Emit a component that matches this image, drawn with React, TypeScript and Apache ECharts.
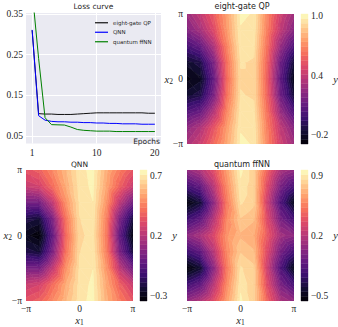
import React, { useEffect, useRef } from 'react';
import * as echarts from 'echarts';

const PI = Math.PI;

// ---------- Loss curve data ----------
const epochs = [1, 2, 3, 4, 5, 6, 7, 8, 9, 10, 11, 12, 13, 14, 15, 16, 17, 18, 19, 20];
const lossEightGate = [0.31, 0.105, 0.104, 0.104, 0.103, 0.103, 0.103, 0.104, 0.105, 0.106, 0.107, 0.107, 0.107, 0.107, 0.107, 0.107, 0.107, 0.107, 0.106, 0.106];
const lossQNN = [0.311, 0.1, 0.089, 0.086, 0.085, 0.085, 0.084, 0.084, 0.083, 0.083, 0.082, 0.082, 0.081, 0.081, 0.08, 0.08, 0.08, 0.079, 0.079, 0.079];
const lossFfnn = [0.407, 0.241, 0.095, 0.078, 0.0775, 0.077, 0.072, 0.066, 0.064, 0.063, 0.062, 0.062, 0.062, 0.061, 0.061, 0.061, 0.061, 0.061, 0.061, 0.061];
const seriesNames = ['eight-gate QP', 'QNN', 'quantum ffNN'];
const lossXTickPos = [1, 11, 20];
const lossXTickLabels = ['1', '10', '20'];
const lossYTicks = [0.05, 0.15, 0.25, 0.35];

// ---------- Contour grids (rows: x2 = pi .. -pi, cols: x1 = -pi .. pi) ----------
const gridX1 = [-PI, -0.75 * PI, -0.5 * PI, -0.25 * PI, 0, 0.25 * PI, 0.5 * PI, 0.75 * PI, PI];
const gridX2 = [PI, 0.75 * PI, 0.5 * PI, 0.25 * PI, 0, -0.25 * PI, -0.5 * PI, -0.75 * PI, -PI];

const eightGateGrid = [
  [0.28, 0.40, 0.56, 0.76, 0.98, 0.97, 0.68, 0.44, 0.29],
  [0.20, 0.31, 0.49, 0.74, 0.97, 0.96, 0.66, 0.39, 0.21],
  [0.01, 0.10, 0.33, 0.68, 0.95, 0.94, 0.62, 0.26, 0.03],
  [-0.18, -0.12, 0.17, 0.62, 0.93, 0.92, 0.58, 0.13, -0.16],
  [-0.26, -0.21, 0.10, 0.60, 0.92, 0.92, 0.56, 0.08, -0.24],
  [-0.17, -0.12, 0.17, 0.63, 0.93, 0.92, 0.58, 0.13, -0.16],
  [0.04, 0.11, 0.35, 0.69, 0.95, 0.94, 0.62, 0.26, 0.03],
  [0.24, 0.34, 0.53, 0.75, 0.97, 0.96, 0.66, 0.39, 0.21],
  [0.33, 0.43, 0.60, 0.78, 0.98, 0.97, 0.68, 0.44, 0.29],
];

const qnnGrid = [
  [0.34, 0.38, 0.48, 0.59, 0.695, 0.725, 0.57, 0.45, 0.35],
  [0.25, 0.28, 0.41, 0.56, 0.69, 0.72, 0.55, 0.38, 0.25],
  [0.03, 0.03, 0.23, 0.50, 0.68, 0.71, 0.51, 0.22, 0.02],
  [-0.20, -0.23, 0.05, 0.43, 0.67, 0.70, 0.46, 0.05, -0.22],
  [-0.29, -0.33, -0.02, 0.40, 0.66, 0.69, 0.44, -0.02, -0.32],
  [-0.20, -0.23, 0.05, 0.43, 0.67, 0.70, 0.46, 0.05, -0.22],
  [0.03, 0.03, 0.23, 0.50, 0.68, 0.71, 0.51, 0.22, 0.02],
  [0.25, 0.28, 0.41, 0.56, 0.69, 0.72, 0.55, 0.38, 0.25],
  [0.34, 0.38, 0.48, 0.59, 0.695, 0.725, 0.57, 0.45, 0.35],
];

const ffnnGrid = [
  [0.07, 0.18, 0.37, 0.66, 0.93, 0.82, 0.46, 0.16, 0.07],
  [-0.22, -0.11, 0.21, 0.60, 0.90, 0.82, 0.36, -0.02, -0.21],
  [-0.53, -0.40, 0.05, 0.54, 0.87, 0.82, 0.28, -0.18, -0.48],
  [-0.24, -0.12, 0.20, 0.59, 0.80, 0.76, 0.35, -0.03, -0.22],
  [0.05, 0.16, 0.34, 0.63, 0.74, 0.70, 0.42, 0.13, 0.05],
  [-0.24, -0.12, 0.20, 0.59, 0.80, 0.76, 0.35, -0.03, -0.22],
  [-0.55, -0.42, 0.04, 0.54, 0.87, 0.82, 0.28, -0.18, -0.49],
  [-0.22, -0.11, 0.21, 0.60, 0.90, 0.82, 0.36, -0.02, -0.21],
  [0.08, 0.18, 0.37, 0.66, 0.93, 0.82, 0.46, 0.16, 0.07],
];

const eightGateRange = [-0.29, 1.02];
const qnnRange = [-0.34, 0.75];
const ffnnRange = [-0.557, 0.97];
const eightGateTicks = [-0.2, 0.4, 1.0];
const qnnTicks = [-0.3, 0.2, 0.7];
const ffnnTicks = [-0.5, 0.2, 0.9];
const piTicks = [-PI, 0, PI];
const levelCount = 28;

// ---------- styling ----------
const SERIF = 'Liberation Serif';
const SANS = 'DejaVu Sans';
const TXT = '#262626';

const MAGMA: [number, number, number, number][] = [
  [0.0, 0, 0, 4],
  [0.1, 20, 14, 54],
  [0.2, 59, 15, 112],
  [0.3, 100, 26, 128],
  [0.4, 140, 41, 129],
  [0.5, 183, 55, 121],
  [0.6, 222, 73, 104],
  [0.7, 247, 112, 92],
  [0.8, 254, 159, 109],
  [0.9, 254, 207, 146],
  [1.0, 252, 253, 191],
];

function magma(t: number): string {
  const tt = Math.max(0, Math.min(1, t));
  for (let i = 0; i < MAGMA.length - 1; i++) {
    const a = MAGMA[i];
    const b = MAGMA[i + 1];
    if (tt <= b[0]) {
      const f = (tt - a[0]) / (b[0] - a[0]);
      const r = Math.round(a[1] + f * (b[1] - a[1]));
      const g = Math.round(a[2] + f * (b[2] - a[2]));
      const bl = Math.round(a[3] + f * (b[3] - a[3]));
      return `rgb(${r},${g},${bl})`;
    }
  }
  return 'rgb(252,253,191)';
}

function makeLevels(range: number[]): number[] {
  const out: number[] = [];
  for (let i = 0; i <= levelCount; i++) out.push(range[0] + ((range[1] - range[0]) * i) / levelCount);
  return out;
}

function bandColors(): string[] {
  const out: string[] = [];
  for (let k = 0; k < levelCount; k++) out.push(magma((k + 0.5) / levelCount));
  return out;
}

type P = [number, number, number];

function clipPoly(poly: P[], level: number, keepAbove: boolean): P[] {
  const out: P[] = [];
  for (let i = 0; i < poly.length; i++) {
    const a = poly[i];
    const b = poly[(i + 1) % poly.length];
    const ina = keepAbove ? a[2] >= level : a[2] <= level;
    const inb = keepAbove ? b[2] >= level : b[2] <= level;
    if (ina) out.push(a);
    if (ina !== inb) {
      const t = (level - a[2]) / (b[2] - a[2]);
      out.push([a[0] + t * (b[0] - a[0]), a[1] + t * (b[1] - a[1]), level]);
    }
  }
  return out;
}

function contourSeries(idx: number, grid: number[][], range: number[]) {
  const levels = makeLevels(range);
  const colors = bandColors();
  const cells: number[][] = [];
  for (let r = 0; r < gridX2.length - 1; r++) {
    for (let c = 0; c < gridX1.length - 1; c++) {
      cells.push([
        gridX1[c], gridX2[r], gridX1[c + 1], gridX2[r + 1],
        grid[r][c], grid[r][c + 1], grid[r + 1][c], grid[r + 1][c + 1],
      ]);
    }
  }
  return {
    type: 'custom',
    xAxisIndex: idx,
    yAxisIndex: idx,
    data: cells,
    encode: { x: [0, 2], y: [1, 3] },
    silent: true,
    clip: true,
    renderItem: (_params: any, api: any) => {
      const x0 = api.value(0), y0 = api.value(1), x1 = api.value(2), y1 = api.value(3);
      const v00 = api.value(4), v10 = api.value(5), v01 = api.value(6), v11 = api.value(7);
      const tris: P[][] = [
        [[x0, y0, v00], [x1, y0, v10], [x1, y1, v11]],
        [[x0, y0, v00], [x1, y1, v11], [x0, y1, v01]],
      ];
      const children: any[] = [];
      for (const tri of tris) {
        const vs = tri.map((p) => p[2]);
        const tmin = Math.min(...vs);
        const tmax = Math.max(...vs);
        for (let k = 0; k < levelCount; k++) {
          const lo = k === 0 ? -Infinity : levels[k];
          const hi = k === levelCount - 1 ? Infinity : levels[k + 1];
          if (tmax < lo || tmin > hi) continue;
          let poly: P[] = tri;
          if (isFinite(lo)) poly = clipPoly(poly, lo, true);
          if (poly.length < 3) continue;
          if (isFinite(hi)) poly = clipPoly(poly, hi, false);
          if (poly.length < 3) continue;
          children.push({
            type: 'polygon',
            shape: { points: poly.map((p) => api.coord([p[0], p[1]])) },
            style: { fill: colors[k], stroke: colors[k], lineWidth: 0.6 },
          });
        }
      }
      return { type: 'group', children };
    },
  };
}

function colorbarSeries(idx: number, range: number[]) {
  const levels = makeLevels(range);
  const colors = bandColors();
  const data = colors.map((_, k) => [0, levels[k], 1, levels[k + 1], k]);
  return {
    type: 'custom',
    xAxisIndex: idx,
    yAxisIndex: idx,
    data,
    encode: { x: [0, 2], y: [1, 3] },
    silent: true,
    renderItem: (_params: any, api: any) => {
      const p0 = api.coord([api.value(0), api.value(1)]);
      const p1 = api.coord([api.value(2), api.value(3)]);
      const c = colors[api.value(4)];
      return {
        type: 'rect',
        shape: { x: p0[0], y: p1[1], width: p1[0] - p0[0], height: p0[1] - p1[1] },
        style: { fill: c, stroke: c, lineWidth: 0.4 },
      };
    },
  };
}

const piLabel = (v: number) => (v < -1 ? '−π' : v > 1 ? 'π' : '0');
const cbLabel = (v: number) => (v < 0 ? '−' : '') + Math.abs(v).toFixed(1);

const tickFont = { fontFamily: SERIF, fontSize: 9.5, color: TXT };
const subName = (s: string) => `{v|x}{s|${s}}`;
const subRich = {
  v: { fontFamily: SERIF, fontStyle: 'italic', fontSize: 10.5, color: TXT, lineHeight: 12 },
  s: { fontFamily: SERIF, fontSize: 7.5, color: TXT, lineHeight: 7, verticalAlign: 'bottom' },
};

function heatX(idx: number, showLabels: boolean) {
  return {
    gridIndex: idx,
    type: 'value',
    min: -PI,
    max: PI,
    axisLine: { show: false },
    axisTick: { show: false, customValues: piTicks },
    splitLine: { show: false },
    axisLabel: { show: showLabels, customValues: piTicks, formatter: piLabel, margin: 3, ...tickFont },
    name: showLabels ? subName('1') : '',
    nameLocation: 'middle',
    nameGap: 12.5,
    nameTextStyle: { rich: subRich },
  };
}

function heatY(idx: number, showLabels: boolean) {
  return {
    gridIndex: idx,
    type: 'value',
    min: -PI,
    max: PI,
    axisLine: { show: false },
    axisTick: { show: false, customValues: piTicks },
    splitLine: { show: false },
    axisLabel: { show: showLabels, customValues: piTicks, formatter: piLabel, margin: 4, ...tickFont },
    name: showLabels ? subName('2') : '',
    nameLocation: 'middle',
    nameRotate: 0,
    nameGap: 14,
    nameMoveOverlap: false,
    nameTextStyle: { rich: subRich },
  };
}

function cbX(idx: number) {
  return { gridIndex: idx, type: 'value', min: 0, max: 1, show: false };
}

function cbY(idx: number, range: number[], ticks: number[]) {
  return {
    gridIndex: idx,
    type: 'value',
    position: 'right',
    min: range[0],
    max: range[1],
    axisLine: { show: false },
    axisTick: { show: false, customValues: ticks },
    splitLine: { show: false },
    axisLabel: { customValues: ticks, formatter: cbLabel, margin: 3, ...tickFont },
    name: 'y',
    nameLocation: 'middle',
    nameRotate: 0,
    nameGap: 18,
    nameTextStyle: { fontFamily: SERIF, fontStyle: 'italic', fontSize: 10.5, color: TXT },
  };
}

function titleAt(text: string, cx: number, top: number, size = 7.5) {
  return {
    text,
    left: cx,
    top,
    textAlign: 'center',
    padding: 0,
    textStyle: { fontFamily: SANS, fontSize: size, fontWeight: 'normal', color: TXT },
  };
}

function buildOption() {
  const lossData = [lossEightGate, lossQNN, lossFfnn];
  const lossColors = ['#111111', '#0000ff', '#008000'];
  return {
    animation: false,
    backgroundColor: '#ffffff',
    title: [
      titleAt('Loss curve', 93.5, 2),
      titleAt('eight-gate QP', 242, 2, 8),
      titleAt('QNN', 79.5, 160.5),
      titleAt('quantum ffNN', 242, 160.5, 8),
    ],
    legend: {
      orient: 'vertical',
      left: 95,
      top: 19.5,
      itemWidth: 13,
      itemHeight: 1.2,
      itemGap: 3,
      padding: 0,
      icon: 'rect',
      data: seriesNames,
      textStyle: { fontFamily: SANS, fontSize: 5.5, color: TXT, lineHeight: 6.5 },
    },
    grid: [
      { left: 26, top: 13, width: 135, height: 130.5, show: true, backgroundColor: '#eaeaf2', borderWidth: 0, outerBoundsMode: 'none' },
      { left: 187, top: 14, width: 107, height: 130, outerBoundsMode: 'none' },
      { left: 301, top: 14, width: 7, height: 130, outerBoundsMode: 'none' },
      { left: 26, top: 170, width: 107, height: 131, outerBoundsMode: 'none' },
      { left: 140, top: 170, width: 7, height: 131, outerBoundsMode: 'none' },
      { left: 187, top: 170, width: 107, height: 131, outerBoundsMode: 'none' },
      { left: 301, top: 170, width: 7, height: 131, outerBoundsMode: 'none' },
    ],
    xAxis: [
      {
        gridIndex: 0,
        type: 'value',
        min: 0.05,
        max: 20.95,
        axisLine: { show: false },
        axisTick: { show: false, customValues: lossXTickPos },
        splitLine: { show: true, lineStyle: { color: '#ffffff', width: 1 } },
        axisLabel: {
          customValues: lossXTickPos,
          formatter: (v: number) => lossXTickLabels[lossXTickPos.indexOf(v)] ?? '',
          margin: 4,
          ...tickFont,
        },
      },
      heatX(1, false),
      cbX(2),
      heatX(3, true),
      cbX(4),
      heatX(5, true),
      cbX(6),
    ],
    yAxis: [
      {
        gridIndex: 0,
        type: 'value',
        min: 0.0316,
        max: 0.3525,
        axisLine: { show: false },
        axisTick: { show: false, customValues: lossYTicks },
        splitLine: { show: true, lineStyle: { color: '#ffffff', width: 1 } },
        axisLabel: { customValues: lossYTicks, formatter: (v: number) => v.toFixed(2), margin: 3, ...tickFont },
      },
      heatY(1, true),
      cbY(2, eightGateRange, eightGateTicks),
      heatY(3, true),
      cbY(4, qnnRange, qnnTicks),
      heatY(5, false),
      cbY(6, ffnnRange, ffnnTicks),
    ],
    graphic: [
      {
        type: 'text',
        x: 160,
        y: 141.5,
        silent: true,
        style: { text: 'Epochs', align: 'right', verticalAlign: 'middle', fontFamily: SANS, fontSize: 7.5, fill: TXT },
        z: 100,
      },
    ],
    series: [
      ...lossData.map((vals, i) => ({
        type: 'line',
        name: seriesNames[i],
        xAxisIndex: 0,
        yAxisIndex: 0,
        data: epochs.map((e, j) => [e, vals[j]]),
        symbol: 'none',
        showSymbol: false,
        clip: true,
        color: lossColors[i],
        itemStyle: { color: lossColors[i] },
        lineStyle: { color: lossColors[i], width: 1 },
      })),
      contourSeries(1, eightGateGrid, eightGateRange),
      colorbarSeries(2, eightGateRange),
      contourSeries(3, qnnGrid, qnnRange),
      colorbarSeries(4, qnnRange),
      contourSeries(5, ffnnGrid, ffnnRange),
      colorbarSeries(6, ffnnRange),
    ],
  };
}

export default function App() {
  const ref = useRef<HTMLDivElement>(null);
  useEffect(() => {
    document.body.style.margin = '0';
    const chart = echarts.init(ref.current as HTMLDivElement, undefined, { renderer: 'svg' });
    chart.setOption(buildOption() as any);
    return () => chart.dispose();
  }, []);
  return <div ref={ref} style={{ width: 338, height: 327 }} />;
}
